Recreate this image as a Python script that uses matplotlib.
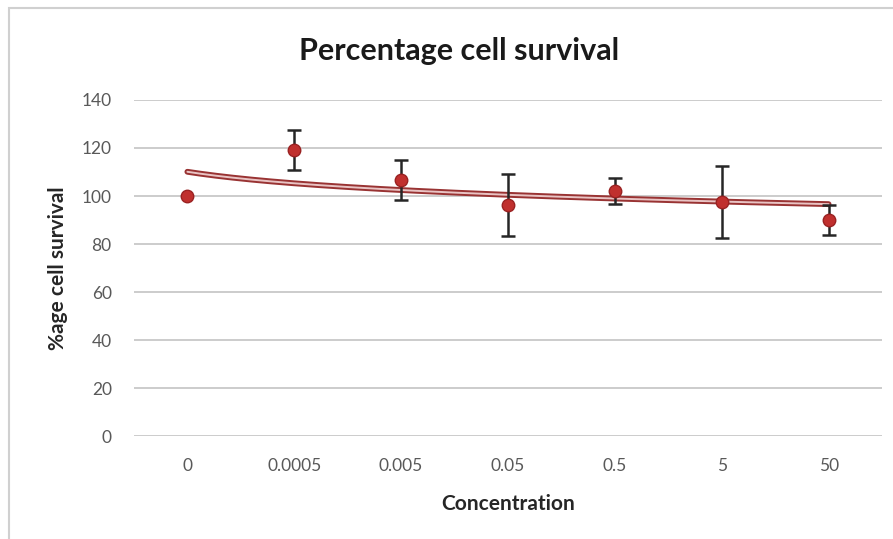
import numpy as np
import matplotlib.pyplot as plt
from matplotlib.patches import Rectangle

# data
concentrations = ["0", "0.0005", "0.005", "0.05", "0.5", "5", "50"]
survival = [100, 119.2, 106.7, 96.3, 102.0, 97.4, 90.0]
errors = [0, 8.5, 8.3, 13.0, 5.3, 15.0, 6.3]

plt.rcParams['font.family'] = ['Lato', 'DejaVu Sans']

fig = plt.figure(figsize=(8.93, 5.39), dpi=100)
fig.patches.append(Rectangle((9 / 893, -0.1), 1.2, 1 - 8 / 539 + 0.1,
                             transform=fig.transFigure, fill=False,
                             edgecolor='#d0d0d0', lw=1.5))
ax = fig.add_axes([0.150, 0.191, 0.8377, 0.6235])

idx = np.arange(1, len(survival) + 1)

# logarithmic trendline (like excel's), fitted on the category index
b, a = np.polyfit(np.log(idx), survival, 1)
xs = np.linspace(1, len(survival), 200)
ys = a + b * np.log(xs)
ax.plot(xs, ys, color='#993333', lw=4.2, solid_capstyle='round', zorder=2)
ax.plot(xs, ys, color='#e9c4c4', lw=1.4, solid_capstyle='round', zorder=2)

err = [e if e > 0 else np.nan for e in errors]
ax.errorbar(idx, survival, yerr=err, fmt='none', ecolor='#262626',
            elinewidth=1.8, capsize=5, capthick=1.8, zorder=3)
ax.plot(idx, survival, 'o', ms=9, mfc='#c0302e', mec='#9a2222', mew=1,
        zorder=4)

ax.set_xlim(0.5, len(survival) + 0.5)
ax.set_ylim(0, 140)
ax.set_yticks(range(0, 141, 20))
ax.set_xticks(idx)
ax.set_xticklabels(concentrations)
ax.yaxis.grid(True, color='#c8c8c8', lw=1.3)
ax.set_axisbelow(True)
for s in ax.spines.values():
    s.set_visible(False)
ax.tick_params(length=0, labelsize=12.5, labelcolor='#595959')
ax.tick_params(axis='y', pad=16)
ax.tick_params(axis='x', pad=16)

ax.set_xlabel("Concentration", fontsize=15, fontweight='bold',
              color='#262626', labelpad=14)
ax.set_ylabel("%age cell survival", fontsize=15, fontweight='bold',
              color='#262626', labelpad=10)
fig.text(0.514, 0.905, "Percentage cell survival", ha='center', va='center',
         fontsize=22, fontweight='bold', color='#1a1a1a')

fig.savefig("out.png", dpi=100)
